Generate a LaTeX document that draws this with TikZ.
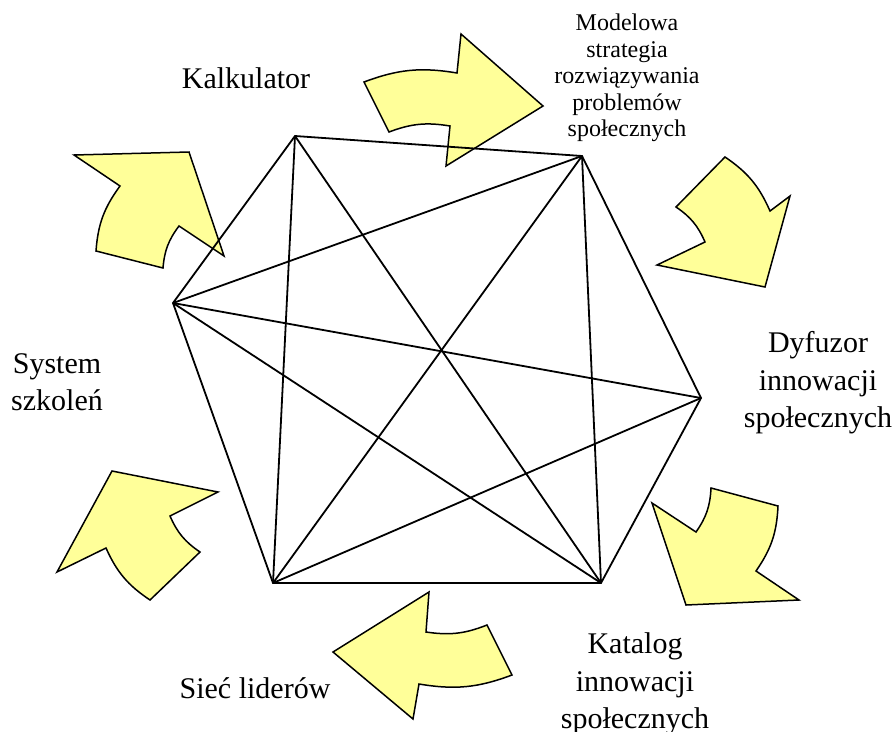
\documentclass[tikz,border=0pt]{standalone}
\usepackage{fontspec}
\setmainfont{Liberation Serif}
\definecolor{paleyellow}{RGB}{255,255,153}
\tikzset{
  blockarrow/.style={draw,line width=1.5pt,fill=paleyellow,line join=miter},
  link/.style={line width=1.8pt},
  biglabel/.style={align=center,font=\fontsize{30}{37.5}\selectfont},
  smalllabel/.style={align=center,font=\fontsize{24}{26.5}\selectfont}
}

\begin{document}
\begin{tikzpicture}[x=1pt,y=-1pt]
  \useasboundingbox (0,0) rectangle (896,731);

  % curved block arrows, clockwise
  \draw[blockarrow] (364,82) to[bend left=15] (457,73) -- (461,34) -- (543,106)
    -- (446,166) -- (450,126) to[bend right=15] (389,132) -- cycle;
  \draw[blockarrow] (725,157) to[bend left=16] (770,211) -- (790,196) -- (765,287)
    -- (657,265) -- (705,242) to[bend right=16] (676,207) -- cycle;
  \draw[blockarrow] (778,506) to[bend left=16] (756,571) -- (799,600) -- (686,605)
    -- (652,503) -- (696,532) to[bend right=16] (711,488) -- cycle;
  \draw[blockarrow] (512,675) to[bend left=15] (419,684) -- (413,719) -- (333,652)
    -- (429,592) -- (426,632) to[bend right=15] (487,625) -- cycle;
  \draw[blockarrow] (150,600) to[bend left=16] (106,548) -- (57,572) -- (112,471)
    -- (218,492) -- (170,516) to[bend right=16] (200,552) -- cycle;
  \draw[blockarrow] (96,251) to[bend left=16] (120,186) -- (74,155) -- (189,152)
    -- (224,256) -- (179,226) to[bend right=16] (163,268) -- cycle;

  % hexagon corners
  \coordinate (kalk) at (295,136);
  \coordinate (model) at (582,156);
  \coordinate (dyf) at (701,398);
  \coordinate (kat) at (601,583);
  \coordinate (siec) at (273,583);
  \coordinate (szk) at (173,303);

  \draw[link] (kalk) -- (model) -- (dyf) -- (kat) -- (siec) -- (szk) -- cycle;
  \draw[link] (kalk) -- (kat);
  \draw[link] (kalk) -- (siec);
  \draw[link] (model) -- (szk);
  \draw[link] (model) -- (siec);
  \draw[link] (model) -- (kat);
  \draw[link] (dyf) -- (szk);
  \draw[link] (dyf) -- (siec);
  \draw[link] (szk) -- (kat);

  % labels
  \node[biglabel] (kalkt) at (246,78) {Kalkulator};
  \node[smalllabel] (modelt) at (627,78) {Modelowa\\strategia\\rozwiązywania\\problemów\\społecznych};
  \node[biglabel] (dyft) at (818,383) {Dyfuzor\\innowacji\\społecznych};
  \node[biglabel] (katt) at (635,684) {Katalog\\innowacji\\społecznych};
  \node[biglabel] (siect) at (255,688) {Sieć liderów};
  \node[biglabel] (szkt) at (57,382) {System\\szkoleń};
\end{tikzpicture}
\end{document}
